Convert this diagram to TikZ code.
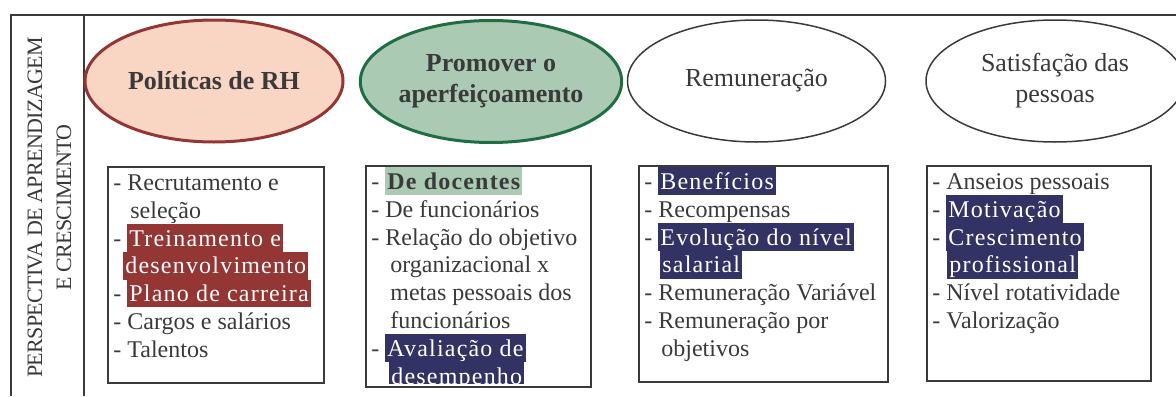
\documentclass[tikz,border=0pt]{standalone}
\usepackage{fontspec}
\setmainfont{Liberation Serif}
\newfontfamily\espacada[LetterSpace=5]{Liberation Serif}
\newfontfamily\apertada[LetterSpace=-3]{Liberation Serif}
\usetikzlibrary{shapes.geometric, positioning}

\definecolor{cinza}{HTML}{3A3A3A}
\definecolor{vinho}{HTML}{943634}
\definecolor{pessego}{HTML}{F9D5C4}
\definecolor{verdeescuro}{HTML}{1E6E42}
\definecolor{verdeclaro}{HTML}{AACAB3}
\definecolor{marinho}{HTML}{323264}

\setlength{\fboxsep}{0pt}
\newcommand{\linha}{\rule[-2.9pt]{0pt}{13.9pt}}
\newcommand{\realce}[2]{\colorbox{#1}{\linha\hspace{1pt}\espacada\color{white}#2\hspace{1pt}}}

\begin{document}
\begin{tikzpicture}[x=0.5pt, y=-0.5pt,
    every node/.style={text=cinza},
    elipse/.style={ellipse, minimum width=129pt, minimum height=61pt, inner sep=0pt, align=center, font=\fontsize{13}{15.5}\selectfont},
    caixa/.style={draw=cinza, line width=0.9pt, anchor=north west, inner sep=0pt},
    lista/.style={anchor=north west, align=left, inner xsep=3pt, inner ysep=1pt, font=\fontsize{12}{13.9}\selectfont}]
    \useasboundingbox (0,0) rectangle (1176,396);

    \draw [cinza, line width=1.1pt] (11,396) |- (1176,15);
    \draw [cinza, line width=1pt] (84,15) -- (84,396);
    \node [rotate=90, anchor=base, font=\apertada\fontsize{11}{13}\selectfont] (perspectiva) at (42,207.5) {PERSPECTIVA DE APRENDIZAGEM};
    \node [rotate=90, anchor=base, font=\apertada\fontsize{11}{13}\selectfont] (crescimento) at (71,207.5) {E CRESCIMENTO};

    \node [elipse, draw=vinho, line width=1.5pt, fill=pessego, font=\bfseries\fontsize{13}{15.5}\selectfont] (politicas) at (214,81) {Políticas de RH};
    \node [elipse, draw=verdeescuro, line width=1.5pt, fill=verdeclaro, font=\bfseries\fontsize{13}{15.5}\selectfont] (promover) at (491,81.5) {Promover o\\aperfeiçoamento};
    \node [elipse, draw=cinza, line width=0.75pt] (remuneracao) at (756.5,81) {Remuneração};
    \node [elipse, draw=cinza, line width=0.75pt] (satisfacao) at (1055,81) {Satisfação das\\pessoas};

    \node [caixa, minimum width=108pt, minimum height=108pt] (caixa1) at (107,166) {};
    \node [caixa, minimum width=112.5pt, minimum height=110.5pt] (caixa2) at (365,165) {};
    \node [caixa, minimum width=124.5pt, minimum height=108pt] (caixa3) at (638,165) {};
    \node [caixa, minimum width=112pt, minimum height=107.5pt] (caixa4) at (926,165) {};

    \node [lista] (lista1) at (caixa1.north west) {\linha- Recrutamento e\\
        \hspace*{8.5pt}seleção\\
        - \realce{vinho}{Treinamento e}\\
        \hspace*{5pt}\realce{vinho}{desenvolvimento}\\
        - \realce{vinho}{Plano de carreira}\\
        - Cargos e salários\\
        - Talentos};
    \begin{scope}
        \clip (caixa2.north west) rectangle ([yshift=2pt]caixa2.south east);
        \node [lista] (lista2) at (caixa2.north west) {\linha- \realce{verdeclaro}{\color{cinza}\bfseries De docentes}\\
            - De funcionários\\
            - Relação do objetivo\\
            \hspace*{9.5pt}organizacional x\\
            \hspace*{9.5pt}metas pessoais dos\\
            \hspace*{9.5pt}funcionários\\
            - \realce{marinho}{Avaliação de}\\
            \hspace*{9pt}\realce{marinho}{desempenho}};
    \end{scope}
    \node [lista] (lista3) at (caixa3.north west) {\linha- \realce{marinho}{Benefícios}\\
        - Recompensas\\
        - \realce{marinho}{Evolução do nível}\\
        \hspace*{8pt}\realce{marinho}{salarial}\\
        - Remuneração Variável\\
        - Remuneração por\\
        \hspace*{8.5pt}objetivos};
    \node [lista] (lista4) at (caixa4.north west) {\linha- Anseios pessoais\\
        - \realce{marinho}{Motivação}\\
        - \realce{marinho}{Crescimento}\\
        \hspace*{7.5pt}\realce{marinho}{profissional}\\
        - Nível rotatividade\\
        - Valorização};
\end{tikzpicture}
\end{document}
